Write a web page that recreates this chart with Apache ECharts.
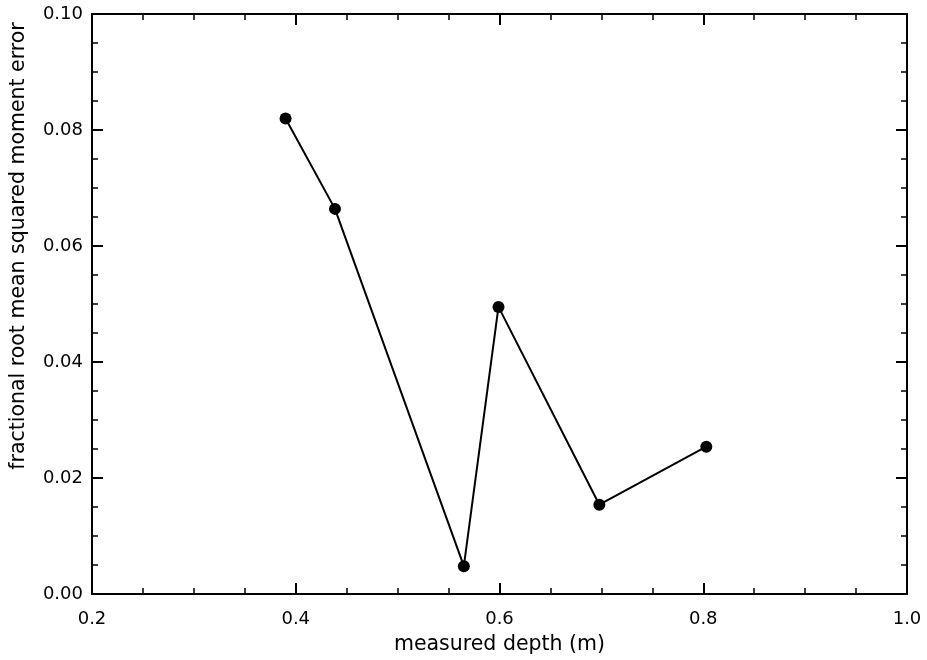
<!DOCTYPE html>
<html>
<head>
<meta charset="utf-8">
<script src="https://cdn.jsdelivr.net/npm/echarts@6/dist/echarts.min.js"></script>
<style>
  html, body { margin: 0; padding: 0; background: #fff; }
  #chart { width: 927px; height: 660px; }
</style>
</head>
<body>
<div id="chart"></div>
<script>
// measured depth (m) and error values
const depth = [0.390, 0.4385, 0.565, 0.599, 0.698, 0.803];
const rmsError = [0.0820, 0.0664, 0.0048, 0.0495, 0.0154, 0.0254];
const xTicks = [0.2, 0.4, 0.6, 0.8, 1.0];
const yTicks = [0.00, 0.02, 0.04, 0.06, 0.08, 0.10];

const myChart = echarts.init(document.getElementById('chart'));
const font = 'DejaVu Sans, Verdana, sans-serif';

// common look for the box axes
function frameAxis(extra) {
  return Object.assign({
    type: 'value',
    axisLine: { show: true, onZero: false, lineStyle: { color: '#000', width: 2 } },
    axisTick: { show: true, inside: true, length: 11, lineStyle: { color: '#000', width: 2 } },
    minorTick: { show: true, splitNumber: 4, length: 6, lineStyle: { color: '#000', width: 1.5 } },
    splitLine: { show: false },
    minorSplitLine: { show: false },
  }, extra);
}

const option = {
  animation: false,
  backgroundColor: '#fff',
  grid: { left: 92, right: 20, top: 14, bottom: 65 },
  xAxis: [
    frameAxis({
      position: 'bottom',
      min: xTicks[0], max: xTicks[xTicks.length - 1], interval: 0.2,
      name: 'measured depth (m)',
      nameLocation: 'middle',
      nameGap: 40,
      nameTextStyle: { color: '#000', fontSize: 20.5, fontFamily: font },
      axisLabel: {
        color: '#000', fontSize: 18, fontFamily: font, margin: 16,
        formatter: v => v.toFixed(1),
      },
    }),
    frameAxis({
      position: 'top',
      min: xTicks[0], max: xTicks[xTicks.length - 1], interval: 0.2,
      axisLabel: { show: false },
    }),
  ],
  yAxis: [
    frameAxis({
      position: 'left',
      min: yTicks[0], max: yTicks[yTicks.length - 1], interval: 0.02,
      name: 'fractional root mean squared moment error',
      nameLocation: 'middle',
      nameGap: 63,
      nameTextStyle: { color: '#000', fontSize: 20.5, fontFamily: font, padding: [0, 0, 0, 116] },
      axisLabel: {
        color: '#000', fontSize: 18, fontFamily: font, margin: 9,
        formatter: v => v.toFixed(2),
      },
    }),
    frameAxis({
      position: 'right',
      min: yTicks[0], max: yTicks[yTicks.length - 1], interval: 0.02,
      axisLabel: { show: false },
    }),
  ],
  series: [
    {
      type: 'line',
      data: depth.map((d, i) => [d, rmsError[i]]),
      symbol: 'circle',
      symbolSize: 12,
      showAllSymbol: true,
      itemStyle: { color: '#000' },
      lineStyle: { color: '#000', width: 2 },
    },
  ],
};
myChart.setOption(option);
</script>
</body>
</html>
